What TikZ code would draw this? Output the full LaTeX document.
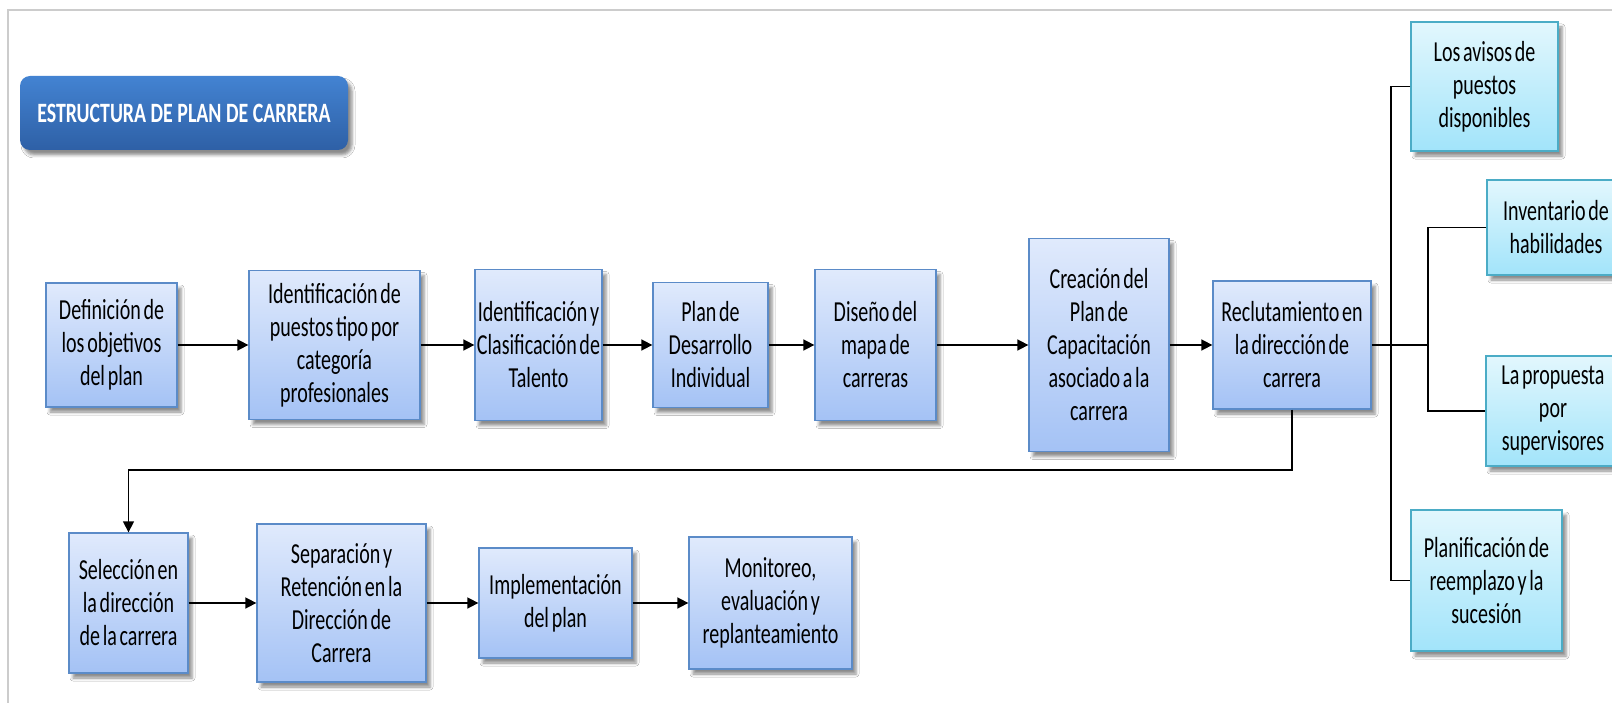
\documentclass[tikz,border=0pt]{standalone}
\usepackage{fontspec}
\setmainfont{Carlito}[FakeStretch=0.69, WordSpace=0.6]
\newfontfamily\headingfont{Carlito}[FakeStretch=0.71]
\usetikzlibrary{arrows.meta,shadows.blur}

\definecolor{boxtop}{HTML}{E0EAFC}
\definecolor{boxbot}{HTML}{A4C2F5}
\definecolor{boxline}{HTML}{5B8BC8}
\definecolor{cyantop}{HTML}{E2F7FD}
\definecolor{cyanbot}{HTML}{A2E4FA}
\definecolor{cyanline}{HTML}{4BACC6}
\definecolor{titletop}{HTML}{4383D2}
\definecolor{titlebot}{HTML}{2E60A6}
\definecolor{framecol}{HTML}{CCCCCC}

\tikzset{
  boxshadow/.style={blur shadow={shadow xshift=4pt, shadow yshift=-5pt,
      shadow blur radius=3pt, shadow opacity=45}},
  sz/.style 2 args={minimum width=#1pt, minimum height=#2pt},
  stagebox/.style={draw=boxline, line width=1.3pt, top color=boxtop,
      bottom color=boxbot, inner sep=0pt, align=center, boxshadow,
      font=\fontsize{29}{33}\selectfont},
  sidebox/.style={stagebox, draw=cyanline, top color=cyantop, bottom color=cyanbot},
  titlebox/.style={rounded corners=10pt, top color=titletop, bottom color=titlebot,
      draw=none, inner sep=0pt, text=white, boxshadow,
      font=\headingfont\fontsize{28}{30}\selectfont\bfseries},
  flow/.style={black, line width=1.6pt, -{Triangle[length=11pt,width=11pt]}},
  back/.style={black, line width=1.3pt, -{Triangle[length=11pt,width=11pt]}},
  tree/.style={black, line width=1.4pt}
}

\begin{document}
\begin{tikzpicture}[x=1pt, y=-1pt]
  \useasboundingbox (0,0) rectangle (1612,703);
  \fill[white] (0,0) rectangle (1612,703);

  % page frame
  \draw[framecol, line width=1.3pt] (8,703) -- (8,10) -- (1612,10);

  % heading
  \node[titlebox, sz={328}{74}] (title) at (184,113) {ESTRUCTURA DE PLAN DE CARRERA};

  % upper row of stages
  \node[stagebox, sz={131}{124}] (n1) at (111.5,345) {Definición de\\los objetivos\\del plan};
  \node[stagebox, sz={171}{149}] (n2) at (334.5,345) {Identificación de\\puestos tipo por\\categoría\\profesionales};
  \node[stagebox, sz={127}{151}] (n3) at (538.5,345) {Identificación y\\Clasificación de\\Talento};
  \node[stagebox, sz={115}{125}] (n4) at (710.5,345) {Plan de\\Desarrollo\\Individual};
  \node[stagebox, sz={121}{151}] (n5) at (875.5,345) {Diseño del\\mapa de\\carreras};
  \node[stagebox, sz={140}{213}] (n6) at (1099,345) {Creación del\\Plan de\\Capacitación\\asociado a la\\carrera};
  \node[stagebox, sz={158}{128}] (n7) at (1292,345) {Reclutamiento en\\la dirección de\\carrera};

  % recruitment sources
  \node[sidebox, sz={147}{129}] (r1) at (1484.5,86.5) {Los avisos de\\puestos\\disponibles};
  \node[sidebox, sz={138}{95}]  (r2) at (1556,227.5) {Inventario de\\habilidades};
  \node[sidebox, sz={134}{110}] (r3) at (1553,411) {La propuesta\\por\\supervisores};
  \node[sidebox, sz={151}{141}] (r4) at (1486.5,580.5) {Planificación de\\reemplazo y la\\sucesión};

  % lower row of stages
  \node[stagebox, sz={119}{140}] (b1) at (128.5,603) {Selección en\\la dirección\\de la carrera};
  \node[stagebox, sz={169}{158}] (b2) at (341.5,603) {Separación y\\Retención en la\\Dirección de\\Carrera};
  \node[stagebox, sz={153}{110}] (b3) at (555.5,603) {Implementación\\del plan};
  \node[stagebox, sz={163}{132}] (b4) at (770.5,603) {Monitoreo,\\evaluación y\\replanteamiento};

  % flow arrows
  \draw[flow] (n1) -- (n2);
  \draw[flow] (n2) -- (n3);
  \draw[flow] (n3) -- (n4);
  \draw[flow] (n4) -- (n5);
  \draw[flow] (n5) -- (n6);
  \draw[flow] (n6) -- (n7);
  \draw[flow] (b1) -- (b2);
  \draw[flow] (b2) -- (b3);
  \draw[flow] (b3) -- (b4);

  % return path to the lower row
  \coordinate (fb) at (128.5,470);
  \draw[back] (n7.south) |- (fb) -- (b1.north);

  % bracket to the recruitment sources
  \coordinate (ja) at (1391,345);
  \coordinate (jb) at (1428,345);
  \draw[tree] (n7.east) -- (jb);
  \draw[tree] (r1.west) -| (ja) |- (r4.west);
  \draw[tree] (r2.west) -| (jb) |- (r3.west);
\end{tikzpicture}
\end{document}
